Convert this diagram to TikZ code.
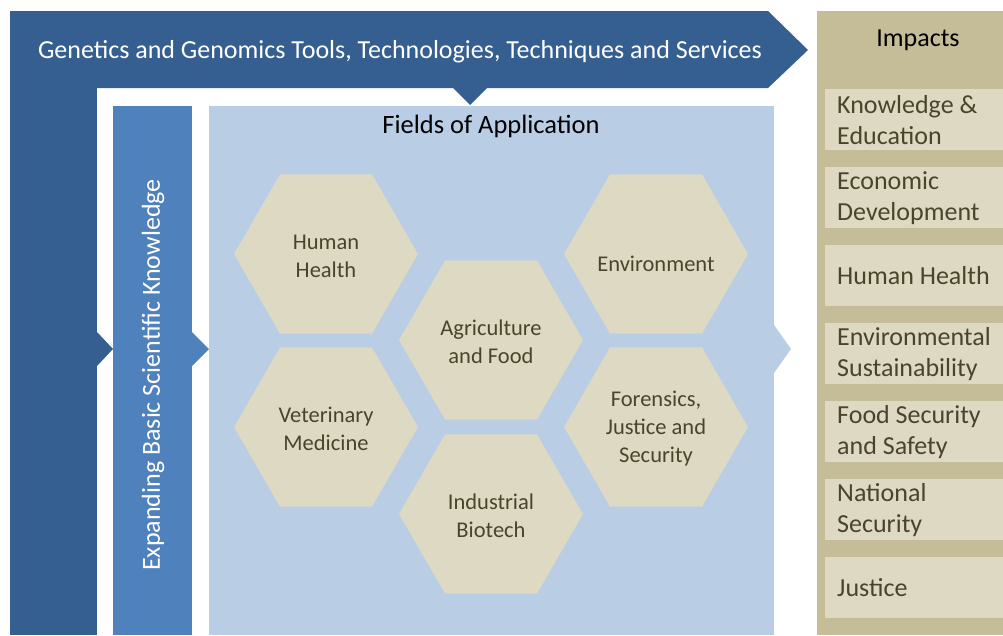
\documentclass[tikz,border=0pt]{standalone}
\usepackage{fontspec}
\setmainfont{Carlito}
\usetikzlibrary{shapes.geometric}

\definecolor{bannerblue}{HTML}{365F91}
\definecolor{barblue}{HTML}{4F81BD}
\definecolor{fieldblue}{HTML}{B9CDE5}
\definecolor{impacttan}{HTML}{C4BD97}
\definecolor{cellbeige}{HTML}{DDD9C3}
\definecolor{celltext}{HTML}{4A452A}

\tikzset{
  hexcell/.style={regular polygon, regular polygon sides=6, minimum size=184pt,
    inner sep=0pt, fill=cellbeige},
  hextext/.style={text=celltext, align=flush center, inner sep=0pt, yshift=-2pt,
    font=\fontsize{22.5}{28}\selectfont},
  impactbox/.style={anchor=north west, fill=cellbeige, text=celltext,
    minimum width=178pt, minimum height=61pt, text width=154pt, inner xsep=0pt,
    align=flush left, font=\fontsize{26}{31}\selectfont},
}

\begin{document}
\begin{tikzpicture}[x=1pt, y=-1pt]
  \useasboundingbox (0,0) rectangle (1003,635);

  % tools banner and its pointers
  \fill[bannerblue] (10,11) -- (768,11) -- (808,50) -- (768,88) -- (10,88) -- cycle;
  \fill[bannerblue] (453,88) -- (487,88) -- (470,105) -- cycle;
  \fill[bannerblue] (10,88) rectangle (97,635);
  \fill[bannerblue] (97,332) -- (113,349) -- (97,366) -- cycle;
  \node[text=white, font=\fontsize{26}{28}\selectfont] (tools) at (400,52)
    {Genetics and Genomics Tools, Technologies, Techniques and Services};

  % basic knowledge bar
  \fill[barblue] (113,106) rectangle (192,635);
  \fill[barblue] (192,332) -- (209,349) -- (192,366) -- cycle;
  \node[text=white, rotate=90, font=\fontsize{26}{28}\selectfont] (basic) at (153,375)
    {Expanding Basic Scientific Knowledge};

  % fields of application
  \fill[fieldblue] (209,106) rectangle (774,635);
  \fill[fieldblue] (774,325) -- (791,349) -- (774,373) -- cycle;
  \node[font=\fontsize{26.5}{28}\selectfont] (fields) at (491,126) {Fields of Application};

  \node[hexcell, label={[hextext]center:Human\\Health}] (human) at (326,254) {};
  \node[hexcell, label={[hextext, yshift=-8pt]center:Environment}] (env) at (656,254) {};
  \node[hexcell, label={[hextext]center:Agriculture\\and Food}] (agri) at (491,340) {};
  \node[hexcell, label={[hextext]center:Veterinary\\Medicine}] (vet) at (326,427) {};
  \node[hexcell, label={[hextext]center:Forensics,\\Justice and\\Security}] (foren) at (656,427) {};
  \node[hexcell, label={[hextext]center:Industrial\\Biotech}] (indus) at (491,514) {};

  % impacts column
  \fill[impacttan] (817,11) rectangle (1003,635);
  \node[font=\fontsize{26}{28}\selectfont] (impacts) at (918,40) {Impacts};

  \node[impactbox] (know) at (825,89) {Knowledge \&\\Education};
  \node[impactbox] (econ) at (825,167) {Economic\\Development};
  \node[impactbox] (health) at (825,245) {Human Health};
  \node[impactbox] (sust) at (825,323) {Environmental\\Sustainability};
  \node[impactbox] (food) at (825,401) {Food Security\\and Safety};
  \node[impactbox] (natsec) at (825,479) {National\\Security};
  \node[impactbox] (justice) at (825,557) {Justice};
\end{tikzpicture}
\end{document}
